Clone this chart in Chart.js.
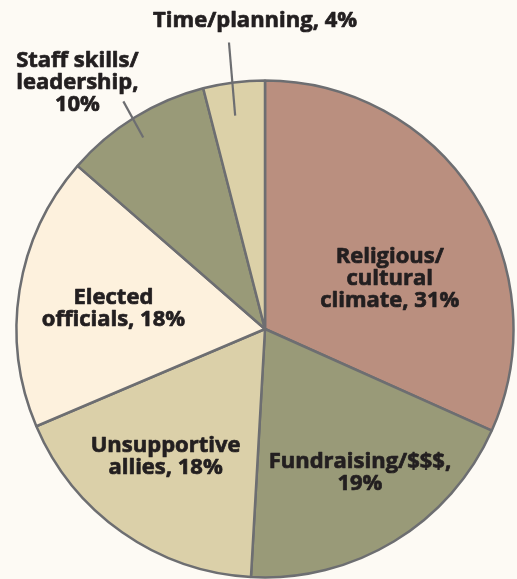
<!DOCTYPE html>
<html>
<head>
<meta charset="utf-8">
<script src="https://cdn.jsdelivr.net/npm/chart.js@4"></script>
<style>
html,body{margin:0;padding:0;background:#fdfaf4;}
#wrap{width:517px;height:579px;position:relative;}
</style>
</head>
<body>
<div id="wrap"><canvas id="c" width="517" height="579"></canvas></div>
<script>
const categories = ["Religious/cultural climate", "Fundraising/$$$", "Unsupportive allies", "Elected officials", "Staff skills/leadership", "Time/planning"];
// slice sizes as drawn in the picture (labels show rounded percentages)
const values = [31.7, 19.2, 17.7, 17.8, 9.6, 4.0];
const labelLines = [
  ["Religious/", "cultural", "climate, 31%"],
  ["Fundraising/$$$,", "19%"],
  ["Unsupportive", "allies, 18%"],
  ["Elected", "officials, 18%"],
  ["Staff skills/", "leadership,", "10%"],
  ["Time/planning, 4%"]
];
const sliceColors = ["#ba8f7f", "#999a78", "#dbd0a9", "#fdf1dd", "#999a78", "#dcd1a8"];
// label anchor (first-line baseline) relative to pie centre, in radius units
const labelPos = [[0.502,-0.265],[0.382,0.558],[-0.400,0.494],[-0.610,-0.100],[-0.755,-1.053],[-0.040,-1.214]];
// leader lines (radius units), null if none
const leaders = [null,null,null,null,[[-0.570,-0.916],[-0.490,-0.771]],[[-0.145,-1.153],[-0.120,-0.859]]];

const labelPlugin = {
  id: 'labelPlugin',
  afterDatasetsDraw(chart) {
    const ctx = chart.ctx;
    const arc = chart.getDatasetMeta(0).data[0];
    const cx = arc.x, cy = arc.y, r = arc.outerRadius;
    ctx.save();
    ctx.strokeStyle = '#6d6e71';
    ctx.lineWidth = 2.2;
    leaders.forEach(l => {
      if (!l) return;
      ctx.beginPath();
      ctx.moveTo(cx + l[0][0]*r, cy + l[0][1]*r);
      ctx.lineTo(cx + l[1][0]*r, cy + l[1][1]*r);
      ctx.stroke();
    });
    ctx.fillStyle = '#231f20';
    ctx.strokeStyle = '#231f20';
    ctx.lineWidth = 0.7;
    ctx.lineJoin = 'round';
    ctx.font = 'bold 22px "Open Sans"';
    ctx.textAlign = 'center';
    ctx.textBaseline = 'alphabetic';
    labelLines.forEach((lines, i) => {
      const x = cx + labelPos[i][0]*r, y = cy + labelPos[i][1]*r;
      lines.forEach((t, j) => {
        ctx.fillText(t, x, y + j*22);
        ctx.strokeText(t, x, y + j*22);
      });
    });
    ctx.restore();
  }
};

new Chart(document.getElementById('c'), {
  type: 'pie',
  data: {
    labels: categories,
    datasets: [{
      data: values,
      backgroundColor: sliceColors,
      borderColor: '#6d6e71',
      borderWidth: 2.5
    }]
  },
  options: {
    responsive: false,
    animation: false,
    layout: { padding: { left: 15.25, top: 79.25, right: 2.25, bottom: 0.25 } },
    plugins: { legend: { display: false }, tooltip: { enabled: false } }
  },
  plugins: [labelPlugin]
});
</script>
</body>
</html>
